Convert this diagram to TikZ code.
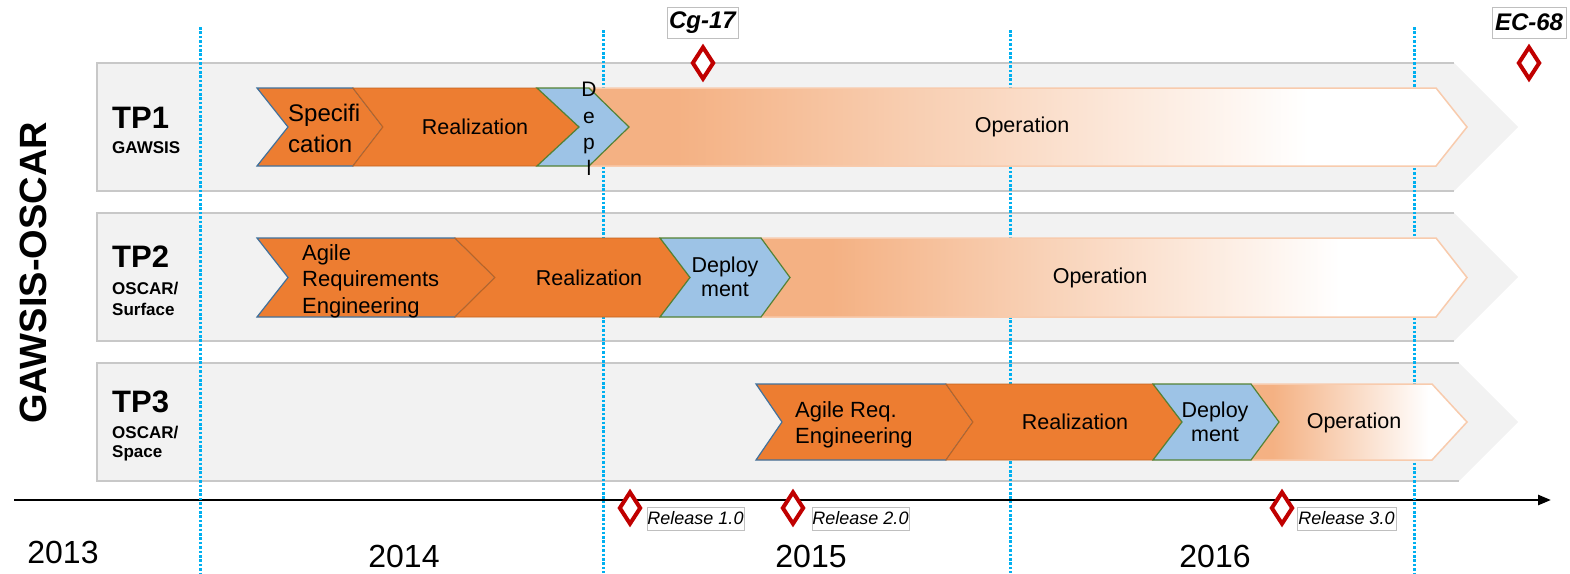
\documentclass[tikz,border=0pt]{standalone}
\usepackage{fontspec}
\setmainfont{Liberation Sans}
\usetikzlibrary{shapes.geometric,arrows.meta}
\definecolor{laneFill}{HTML}{F2F2F2}
\definecolor{laneLine}{HTML}{C8C8C8}
\definecolor{orng}{HTML}{ED7D31}
\definecolor{orngLine}{HTML}{C0631F}
\definecolor{specLine}{HTML}{41719C}
\definecolor{blu}{HTML}{9DC3E6}
\definecolor{bluLine}{HTML}{548235}
\definecolor{opc}{HTML}{F4B183}
\definecolor{opLine}{HTML}{F8CBAD}
\definecolor{dotc}{HTML}{00B0F0}
\definecolor{msRed}{HTML}{C00000}
\definecolor{boxLine}{HTML}{BFBFBF}
\pgfdeclarehorizontalshading{opfade}{100bp}{color(0bp)=(opc); color(30bp)=(opc); color(66bp)=(white); color(100bp)=(white)}
\newcommand{\mychev}[7]{\path[#1] (#2,#6) -- (#4,#6) -- (#5,{(#6+#7)/2}) -- (#4,#7) -- (#2,#7) -- ({#2+#3},{(#6+#7)/2}) -- cycle;}
\newcommand{\mylane}[2]{%
  \fill[laneFill] (97,#1) -- ({1518-(#2-#1)/2},#1) -- (1518,{(#1+#2)/2}) -- ({1518-(#2-#1)/2},#2) -- (97,#2) -- cycle;
  \draw[laneLine, line width=1.2] ({1518-(#2-#1)/2},#1) -- (97,#1) -- (97,#2) -- ({1518-(#2-#1)/2},#2);}
\tikzset{
  firstchev/.style={fill=orng, draw=specLine, line width=1.2},
  realchev/.style={fill=orng, draw=orngLine, line width=0.9},
  deplchev/.style={fill=blu, draw=bluLine, line width=1.2},
  opchev/.style={shade, shading=opfade, draw=opLine, line width=1.5},
  ctext/.style={font=\fontsize{21.5}{26}\selectfont, inner sep=0, align=center},
  ltext/.style={font=\fontsize{22}{26.5}\selectfont, inner sep=0, align=left, anchor=west},
  tpbig/.style={font=\bfseries\fontsize{31}{31}\selectfont, inner sep=0, anchor=base west},
  tpsmall/.style={font=\bfseries\fontsize{17}{17}\selectfont, inner sep=0, anchor=base west},
  yeartext/.style={font=\fontsize{32}{32}\selectfont, inner sep=0, anchor=base},
  dotline/.style={dotc, line width=3, dash pattern=on 2.6pt off 1.8pt},
  milestone/.style={shape=diamond, draw=msRed, fill=white, line width=4, minimum width=22, minimum height=33, inner sep=0, aspect=0.6},
  msbox/.style={draw=boxLine, fill=white, line width=1, inner sep=0, font=\bfseries\itshape\fontsize{24}{24}\selectfont, minimum height=31},
  relbox/.style={draw=boxLine, fill=white, line width=1, inner sep=0, font=\itshape\fontsize{18}{18}\selectfont, minimum height=23, minimum width=97}
}
\begin{document}
\begin{tikzpicture}[x=1pt,y=-1pt]
\useasboundingbox (0,0) rectangle (1570,573);
% lanes
\mylane{63}{191}
\mylane{213}{341}
\mylane{363}{481}
% time axis
\coordinate (axL) at (14,500);
\coordinate (axR) at (1551,500);
\draw[line width=2.5, -{Triangle[length=13pt,width=10pt]}] (axL) -- (axR);
% year separators
\foreach \xx/\yy in {200/27, 603/30, 1010/30, 1414/27}{
  \draw[dotline] (\xx,\yy) -- (\xx,573);
}
% TP1 chevrons
\mychev{firstchev}{257}{31}{353}{383}{88}{166}
\mychev{realchev}{353}{30}{537}{579}{88}{166}
\mychev{opchev}{589}{0}{1436}{1467}{88}{166}
\mychev{deplchev}{537}{42}{589}{629}{88}{166}
% TP2 chevrons
\mychev{firstchev}{257}{31}{455}{495}{238}{317}
\mychev{realchev}{455}{40}{660}{690}{238}{317}
\mychev{opchev}{761}{0}{1436}{1467}{238}{317}
\mychev{deplchev}{660}{30}{761}{790}{238}{317}
% TP3 chevrons
\mychev{firstchev}{756}{26}{946}{973}{384}{460}
\mychev{realchev}{946}{27}{1153}{1182}{384}{460}
\mychev{opchev}{1251}{0}{1432}{1467}{384}{460}
\mychev{deplchev}{1153}{29}{1251}{1279}{384}{460}
% chevron texts
\node[ltext, font=\fontsize{24}{31}\selectfont] (spec1) at (288,128) {Specifi\\cation};
\node[ctext] (real1) at (475,127) {Realization};
\node[ctext, font=\fontsize{21}{26.3}\selectfont] (depl1) at (589,129) {D\\e\\p\\l};
\node[ctext] (op1) at (1022,127) {Operation};
\node[ltext] (are2) at (302,281) {Agile\\Requirements\\Engineering};
\node[ctext] (real2) at (589,277.5) {Realization};
\node[ctext, font=\fontsize{21.5}{24.5}\selectfont] (depl2) at (725,277) {Deploy\\ment};
\node[ctext] (op2) at (1100,277.5) {Operation};
\node[ltext, font=\fontsize{22}{25.5}\selectfont] (are3) at (795,425) {Agile Req.\\Engineering};
\node[ctext] (real3) at (1075,422) {Realization};
\node[ctext, font=\fontsize{21.5}{24.5}\selectfont] (depl3) at (1215,422) {Deploy\\ment};
\node[ctext] (op3) at (1354,423) {Operation};
% lane labels
\node[tpbig] (tp1) at (112,128) {TP1};
\node[tpsmall] (tp1s) at (112,153) {GAWSIS};
\node[tpbig] (tp2) at (112,267) {TP2};
\node[tpsmall] (tp2s) at (112,294) {OSCAR/};
\node[tpsmall] (tp2t) at (112,315) {Surface};
\node[tpbig] (tp3) at (112,412) {TP3};
\node[tpsmall] (tp3s) at (112,438) {OSCAR/};
\node[tpsmall] (tp3t) at (112,457) {Space};
\node[font=\bfseries\fontsize{38}{38}\selectfont, rotate=90, inner sep=0] (prog) at (33,273) {GAWSIS-OSCAR};
% years
\node[yeartext] (y13) at (63,563) {2013};
\node[yeartext] (y14) at (404,567) {2014};
\node[yeartext] (y15) at (811,567) {2015};
\node[yeartext] (y16) at (1215,567) {2016};
% milestones
\node[milestone] (cg) at (703,63) {};
\node[msbox, minimum width=71] (cgl) at (702.5,22.5) {Cg-17};
\node[milestone] (ec) at (1529,63) {};
\node[msbox, minimum width=74] (ecl) at (1529,22.5) {EC-68};
\node[milestone] (r1) at (630,508) {};
\node[relbox] (r1l) at (695.5,518.5) {Release 1.0};
\node[milestone] (r2) at (793,508) {};
\node[relbox] (r2l) at (860.5,518.5) {Release 2.0};
\node[milestone] (r3) at (1282,508) {};
\node[relbox, minimum width=99] (r3l) at (1346.5,518.5) {Release 3.0};
\end{tikzpicture}
\end{document}
